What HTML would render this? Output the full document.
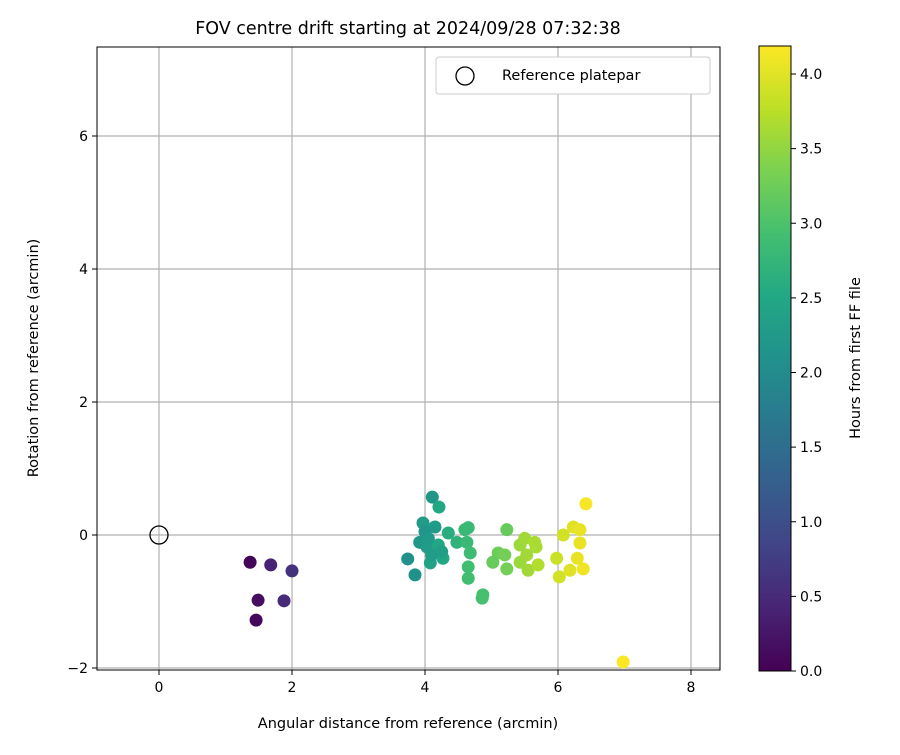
<!DOCTYPE html>
<html><head><meta charset="utf-8"><style>
body{margin:0;background:#fff;font-family:"Liberation Sans","DejaVu Sans",sans-serif;}
</style></head><body>
<svg id="chart" width="900" height="750" xmlns="http://www.w3.org/2000/svg" font-family="DejaVu Sans, Liberation Sans, sans-serif">
<defs>
<linearGradient id="vir" x1="0" y1="1" x2="0" y2="0">
<stop offset="0" stop-color="#440154"/><stop offset="0.1" stop-color="#482475"/><stop offset="0.2" stop-color="#414487"/><stop offset="0.3" stop-color="#355f8d"/><stop offset="0.4" stop-color="#2a788e"/><stop offset="0.5" stop-color="#21918c"/><stop offset="0.6" stop-color="#22a884"/><stop offset="0.7" stop-color="#44bf70"/><stop offset="0.8" stop-color="#7ad151"/><stop offset="0.9" stop-color="#bddf26"/><stop offset="1" stop-color="#fde725"/>
</linearGradient>
</defs>
<g id="grid"></g>
<g id="points"></g>
<rect x="97" y="47" width="623" height="623" fill="none" stroke="#000" stroke-width="1"/>
<g id="xticks"></g>
<g id="yticks"></g>
<text x="408" y="34" font-size="17.5" text-anchor="middle">FOV centre drift starting at 2024/09/28 07:32:38</text>
<text x="408" y="728" font-size="14.5" text-anchor="middle">Angular distance from reference (arcmin)</text>
<text transform="translate(38,358) rotate(-90)" font-size="14.5" text-anchor="middle">Rotation from reference (arcmin)</text>
<g>
<rect x="436" y="57" width="274" height="37" rx="3" fill="#fff" stroke="#ccc"/>
<circle cx="465" cy="76" r="9" fill="none" stroke="#000" stroke-width="1.3"/>
<text x="502" y="80" font-size="14.5">Reference platepar</text>
</g>
<g>
<rect x="759" y="46" width="32" height="625" fill="url(#vir)" stroke="#000" stroke-width="1"/>
<g id="cticks"></g>
<text transform="translate(860,358) rotate(-90)" font-size="14.5" text-anchor="middle">Hours from first FF file</text>
</g>
</svg>
<script>
const xs=[1.37,1.46,1.49,1.68,1.88,2.00,4.11,4.21,3.97,4.15,3.92,4.03,3.74,3.85,4.08,4.27,4.35,4.20,4.48,4.60,4.65,4.63,4.68,4.65,4.65,4.87,4.86,5.23,5.10,5.02,5.20,5.23,5.43,5.50,5.65,5.67,5.43,5.55,5.70,5.53,6.08,5.98,6.02,6.23,6.33,6.33,6.29,6.18,6.38,6.42,6.98,4.00,4.05,4.25,4.10];
const ys=[-0.41,-1.28,-0.98,-0.45,-0.99,-0.54,0.57,0.42,0.18,0.12,-0.11,-0.18,-0.36,-0.60,-0.42,-0.35,0.03,-0.15,-0.11,0.08,0.11,-0.11,-0.27,-0.48,-0.65,-0.90,-0.95,0.08,-0.27,-0.41,-0.30,-0.51,-0.15,-0.05,-0.11,-0.18,-0.41,-0.53,-0.45,-0.30,0.00,-0.35,-0.63,0.12,0.08,-0.12,-0.35,-0.53,-0.51,0.47,-1.91,0.05,-0.05,-0.25,-0.30];
const hours=[0.05,0.1,0.15,0.4,0.5,0.6,2.2,2.5,2.3,2.3,2.2,2.3,2.1,2.1,2.4,2.5,2.6,2.5,2.7,2.8,2.8,2.8,2.85,2.9,2.9,2.95,2.95,3.2,3.25,3.2,3.3,3.3,3.55,3.6,3.65,3.65,3.55,3.6,3.7,3.6,3.9,3.85,3.9,4.0,4.05,4.05,4.05,4.0,4.1,4.15,4.2,2.2,2.25,2.35,2.3];
const xTicks=[0,2,4,6,8];
const yTicks=[-2,0,2,4,6];
const cTicks=[0.0,0.5,1.0,1.5,2.0,2.5,3.0,3.5,4.0];
const NS="http://www.w3.org/2000/svg";
const X=v=>159+v*66.5, Y=v=>535-v*66.5, C=v=>671-v*149.25;
const vir=["#440154","#482475","#414487","#355f8d","#2a788e","#21918c","#22a884","#44bf70","#7ad151","#bddf26","#fde725"];
function hx(c){return [1,3,5].map(i=>parseInt(c.substr(i,2),16));}
function col(t){let f=Math.max(0,Math.min(1,t/4.19))*10,i=Math.min(9,Math.floor(f)),r=f-i,a=hx(vir[i]),b=hx(vir[i+1]);return "rgb("+a.map((v,k)=>Math.round(v+(b[k]-v)*r)).join(",")+")";}
function el(t,a,p){const e=document.createElementNS(NS,t);for(const k in a)e.setAttribute(k,a[k]);p.appendChild(e);return e;}
const g=document.getElementById('grid'),xt=document.getElementById('xticks'),yt=document.getElementById('yticks'),ct=document.getElementById('cticks'),pts=document.getElementById('points');
xTicks.forEach(v=>{const l=el('line',{x1:X(v),x2:X(v),y1:47,y2:670,stroke:'#b0b0b0','stroke-width':1.2},g);
el('line',{x1:X(v),x2:X(v),y1:670,y2:675,stroke:'#000'},xt);const t=el('text',{x:X(v),y:692,'font-size':14,'text-anchor':'middle'},xt);t.textContent=v;});
yTicks.forEach(v=>{const l=el('line',{x1:97,x2:720,y1:Y(v),y2:Y(v),stroke:'#b0b0b0','stroke-width':1.2},g);
el('line',{x1:92,x2:97,y1:Y(v),y2:Y(v),stroke:'#000'},yt);const t=el('text',{x:88,y:Y(v)+5,'font-size':14,'text-anchor':'end'},yt);t.textContent=v<0?'\u2212'+(-v):v;});
cTicks.forEach(v=>{el('line',{x1:791,x2:796,y1:C(v),y2:C(v),stroke:'#000'},ct);const t=el('text',{x:800,y:C(v)+5,'font-size':14},ct);t.textContent=v.toFixed(1);});
xs.forEach((v,i)=>{const c=el('circle',{cx:X(v),cy:Y(ys[i]),r:6.5,fill:col(hours[i])},pts);});
const ref=el('circle',{cx:X(0),cy:Y(0),r:9,fill:'none',stroke:'#000','stroke-width':1.3},pts);


</script>
</body></html>
